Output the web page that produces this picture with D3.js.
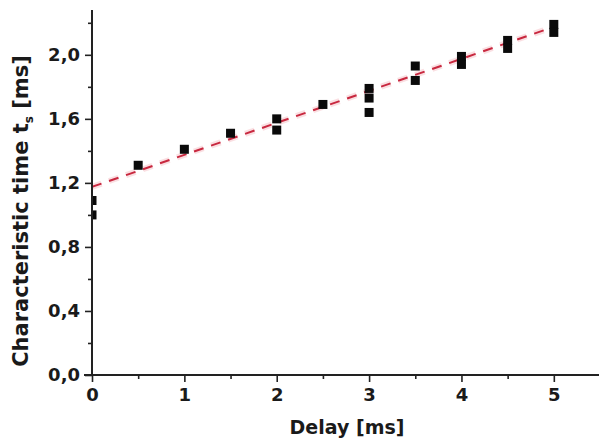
<!DOCTYPE html>
<html>
<head>
<meta charset="utf-8">
<script src="https://cdn.jsdelivr.net/npm/d3@7"></script>
<style>
  html, body { margin: 0; padding: 0; background: #fff; }
  svg { display: block; }
  text { font-family: "DejaVu Sans", sans-serif; font-weight: bold; fill: #1a1a1a; }
</style>
</head>
<body>
<svg id="chart" width="599" height="444"></svg>
<script>
// Measured characteristic time against delay
const delays = [0, 0, 0.5, 1, 1.5, 2, 2, 2.5, 3, 3, 3, 3.5, 3.5, 4, 4, 4.5, 4.5, 5, 5];
const times  = [1.09, 1.00, 1.31, 1.41, 1.51, 1.60, 1.53, 1.69, 1.79, 1.73, 1.64, 1.93, 1.84, 1.99, 1.94, 2.09, 2.04, 2.19, 2.14];

// Linear fit: t = intercept + slope * delay
const fitIntercept = 1.175;
const fitSlope = 0.2;
const fitRange = [0, 5];

const xTicks = [0, 1, 2, 3, 4, 5];
const xMinorTicks = [0.5, 1.5, 2.5, 3.5, 4.5];
const yTicks = [0, 0.4, 0.8, 1.2, 1.6, 2.0];
const yMinorTicks = [0.2, 0.6, 1.0, 1.4, 1.8, 2.2];

const svg = d3.select("#chart");
const m = { left: 92, right: 600, top: 10, bottom: 375 };

const x = d3.scaleLinear().domain([0, 5.5]).range([m.left, m.right]);
const y = d3.scaleLinear().domain([0, 2.28]).range([m.bottom, m.top]);

const fmt = d => d3.format(".1f")(d).replace(".", ",");

svg.append("defs").append("clipPath").attr("id", "plotArea")
  .append("rect").attr("x", m.left).attr("y", 0).attr("width", m.right - m.left).attr("height", m.bottom);

const plot = svg.append("g").attr("clip-path", "url(#plotArea)");

// fit line
const fitLine = d3.line().x(d => x(d)).y(d => y(fitIntercept + fitSlope * d));
plot.append("path")
  .attr("d", fitLine(fitRange))
  .attr("fill", "none")
  .attr("stroke", "#f6c9cf")
  .attr("stroke-width", 6)
  .attr("stroke-dasharray", "10,8")
  .attr("opacity", 0.6);
plot.append("path")
  .attr("d", fitLine(fitRange))
  .attr("fill", "none")
  .attr("stroke", "#c8283f")
  .attr("stroke-width", 2)
  .attr("stroke-dasharray", "10,8");

// data points
const sq = 9;
plot.selectAll("rect.pt")
  .data(delays.map((d, i) => [d, times[i]]))
  .join("rect")
  .attr("class", "pt")
  .attr("x", d => x(d[0]) - sq / 2)
  .attr("y", d => y(d[1]) - sq / 2)
  .attr("width", sq)
  .attr("height", sq)
  .attr("fill", "#0a0a0a");

// axes
const xAxis = svg.append("g").attr("transform", `translate(0,${m.bottom})`)
  .call(d3.axisBottom(x).tickValues(xTicks).tickFormat(d3.format("d")).tickSize(7).tickPadding(6));
const xMinor = svg.append("g").attr("transform", `translate(0,${m.bottom})`)
  .call(d3.axisBottom(x).tickValues(xMinorTicks).tickFormat("").tickSize(4));

const yAxis = svg.append("g").attr("transform", `translate(${m.left},0)`)
  .call(d3.axisLeft(y).tickValues(yTicks).tickFormat(fmt).tickSize(7).tickPadding(5));
const yMinor = svg.append("g").attr("transform", `translate(${m.left},0)`)
  .call(d3.axisLeft(y).tickValues(yMinorTicks).tickFormat("").tickSize(4));

[xAxis, xMinor, yAxis, yMinor].forEach(g => {
  g.select(".domain").attr("stroke", "#222").attr("stroke-width", 2);
  g.selectAll(".tick line").attr("stroke", "#222").attr("stroke-width", 1.6);
  g.selectAll(".tick text").style("font-size", "18px").style("font-family", "DejaVu Sans").style("font-weight", "bold").attr("fill", "#1a1a1a");
});
yAxis.select(".domain").attr("d", `M0,${y(2.28)}V${m.bottom}`);
xAxis.select(".domain").attr("d", `M${m.left - 8},0H${m.right}`);
xMinor.select(".domain").remove();
yMinor.select(".domain").remove();

// axis titles
svg.append("text")
  .attr("x", 347).attr("y", 434)
  .attr("text-anchor", "middle")
  .style("font-size", "19px")
  .text("Delay [ms]");

const yTitle = svg.append("text")
  .attr("transform", "translate(28,211) rotate(-90)")
  .attr("text-anchor", "middle")
  .style("font-size", "21px");
yTitle.append("tspan").text("Characteristic time t");
yTitle.append("tspan").attr("dy", 5).style("font-size", "12px").text("s");
yTitle.append("tspan").attr("dy", -5).text(" [ms]");
</script>
</body>
</html>
